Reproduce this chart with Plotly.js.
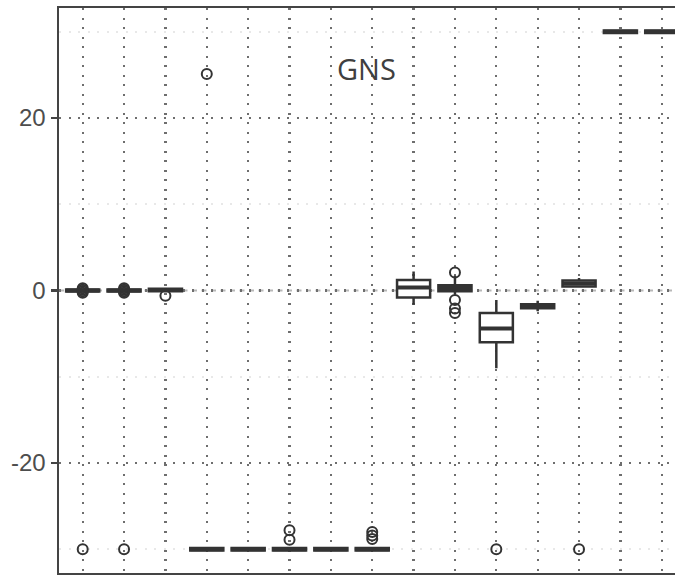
<!DOCTYPE html>
<html>
<head>
<meta charset="utf-8">
<script src="https://cdn.plot.ly/plotly-3.0.1.min.js"></script>
<style>
  html, body { margin: 0; padding: 0; background: #ffffff; overflow: hidden; }
  #chart { width: 675px; height: 575px; }
</style>
</head>
<body>
<div id="chart"></div>
<script>
// Group positions along the x axis (labels are not shown)
const groups = [1, 2, 3, 4, 5, 6, 7, 8, 9, 10, 11, 12, 13, 14, 15];

// Box statistics per group
const q1     = [-0.12, -0.12, -0.10, -30.15, -30.15, -30.15, -30.15, -30.15, -0.80, -0.10, -6.00, -2.05, 0.45, 29.85, 29.85];
const median = [ 0.00,  0.00,  0.05, -30.00, -30.00, -30.00, -30.00, -30.00,  0.35,  0.30, -4.40, -1.80, 0.80, 30.00, 30.00];
const q3     = [ 0.12,  0.12,  0.20, -29.85, -29.85, -29.85, -29.85, -29.85,  1.22,  0.60, -2.60, -1.60, 1.15, 30.15, 30.15];
const lowerW = [-0.20, -0.20, -0.20, -30.20, -30.20, -30.20, -30.20, -30.20, -1.65, -0.40, -9.00, -2.40, 0.35, 29.80, 29.80];
const upperW = [ 0.20,  0.20,  0.30, -29.80, -29.80, -29.80, -29.80, -29.80,  2.20,  1.70, -1.10, -1.20, 1.45, 30.20, 30.20];

// Outlying observations: group position and value
const outlierGroup = [1, 1, 1, 1, 1, 2, 2, 2, 2, 2, 3, 4, 6, 6, 8, 8, 8, 10, 10, 10, 10, 11, 13];
const outlierValue = [0.25, 0.1, -0.1, -0.25, -30, 0.25, 0.1, -0.1, -0.25, -30, -0.6, 25.1, -27.8, -28.9, -28.0, -28.4, -28.8, 2.1, -1.1, -2.1, -2.6, -30, -30];

// Axis ticks
const yTicks = [-20, 0, 20];
const yTickText = ['-20', '0', '20'];
const panelLabel = 'GNS';

const ink = '#333333';
const gridDot = '2px,7.5px';

const boxes = {
  type: 'box',
  x: groups,
  q1: q1,
  median: median,
  q3: q3,
  lowerfence: lowerW,
  upperfence: upperW,
  width: 0.8,
  whiskerwidth: 0,
  fillcolor: '#ffffff',
  line: { color: ink, width: 2.5 },
  boxpoints: false,
  hoverinfo: 'skip',
  showlegend: false
};

// Heavier median bar drawn on top of each box
const medianBars = {
  type: 'box',
  x: groups,
  q1: median,
  median: median,
  q3: median,
  lowerfence: median,
  upperfence: median,
  width: 0.8,
  whiskerwidth: 0,
  fillcolor: 'rgba(0,0,0,0)',
  line: { color: ink, width: 4 },
  boxpoints: false,
  hoverinfo: 'skip',
  showlegend: false
};

const outliers = {
  type: 'scatter',
  mode: 'markers',
  x: outlierGroup,
  y: outlierValue,
  marker: { symbol: 'circle-open', size: 10, color: ink, line: { width: 2, color: ink } },
  hoverinfo: 'skip',
  showlegend: false
};

const layout = {
  width: 675,
  height: 575,
  margin: { l: 59, r: 0, t: 8, b: 2 },
  paper_bgcolor: '#ffffff',
  plot_bgcolor: '#ffffff',
  showlegend: false,
  boxmode: 'overlay',
  xaxis: {
    type: 'linear',
    range: [0.427, 15.32],
    tickmode: 'linear',
    tick0: 1,
    dtick: 1,
    showticklabels: false,
    ticks: '',
    showgrid: true,
    gridcolor: '#6e6e6e',
    gridwidth: 2.2,
    griddash: gridDot,
    zeroline: false,
    showline: true,
    mirror: true,
    linecolor: '#444444',
    linewidth: 2.5
  },
  yaxis: {
    range: [-32.75, 32.75],
    tickmode: 'array',
    tickvals: yTicks,
    ticktext: yTickText,
    ticks: 'outside',
    ticklen: 6,
    tickwidth: 2.5,
    tickcolor: '#444444',
    tickfont: { family: 'Liberation Sans, Arial, sans-serif', size: 24, color: '#4d4d4d' },
    showgrid: true,
    gridcolor: '#6e6e6e',
    gridwidth: 2.2,
    griddash: gridDot,
    minor: {
      tick0: 10,
      dtick: 20,
      showgrid: true,
      gridcolor: '#e8e8e8',
      gridwidth: 1.8,
      ticks: ''
    },
    zeroline: false,
    showline: true,
    mirror: false,
    linecolor: '#444444',
    linewidth: 2.5
  },
  shapes: [
    {
      type: 'line',
      xref: 'paper', x0: 0, x1: 1,
      yref: 'y', y0: 0, y1: 0,
      layer: 'below',
      line: { color: '#b8b8b8', width: 1.8, dash: '5px,4.5px' }
    }
  ],
  annotations: [
    {
      text: panelLabel,
      x: 7.87, y: 25.7,
      xref: 'x', yref: 'y',
      showarrow: false,
      font: { family: 'Open Sans, Noto Sans, sans-serif', size: 29, color: '#3f3f3f' }
    }
  ]
};

Plotly.newPlot('chart', [boxes, medianBars, outliers], layout, { displayModeBar: false, staticPlot: true });
</script>
</body>
</html>
